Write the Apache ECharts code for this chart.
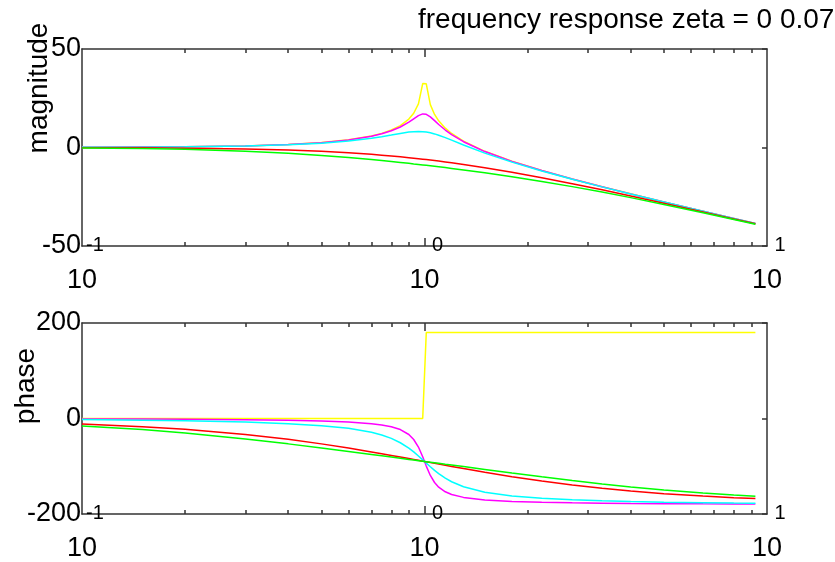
<!DOCTYPE html>
<html>
<head>
<meta charset="utf-8">
<script src="https://cdn.jsdelivr.net/npm/echarts@6/dist/echarts.min.js"></script>
<style>
  html, body { margin: 0; padding: 0; background: #fff; }
  #chart { width: 835px; height: 562px; }
</style>
</head>
<body>
<div id="chart"></div>
<script>
// frequency samples (rad/s), shared by every curve
const freq = [0.1, 0.15, 0.2, 0.3, 0.4, 0.5, 0.6, 0.7, 0.75, 0.8, 0.85, 0.9, 0.93, 0.96, 0.988,
  1.012, 1.04, 1.07, 1.1, 1.15, 1.2, 1.3, 1.5, 1.8, 2.2, 2.7, 3.3, 4, 5, 6.5, 8, 9.25];

const zetaLabels = ['0', '0.07', '0.2', '1', '1.4'];
const lineColors = ['#ffff00', '#ff00ff', '#00ffff', '#ff0000', '#00ff00'];

// magnitude (dB)
const magYellow = [0.09, 0.2, 0.35, 0.82, 1.51, 2.5, 3.88, 5.85, 7.18, 8.87, 11.13, 14.42, 17.39, 22.11, 32.45,
  32.34, 21.77, 16.78, 13.56, 9.83, 7.13, 3.22, -1.94, -7.0, -11.69, -15.97, -19.9, -23.52, -27.6, -32.31, -35.99, -38.54];
const magMagenta = [0.09, 0.2, 0.35, 0.81, 1.5, 2.46, 3.8, 5.69, 6.94, 8.47, 10.4, 12.84, 14.53, 16.16, 17.05,
  16.85, 15.55, 13.62, 11.69, 8.86, 6.54, 2.93, -2.06, -7.06, -11.71, -15.99, -19.91, -23.53, -27.61, -32.31, -35.99, -38.54];
const magCyan = [0.08, 0.18, 0.32, 0.74, 1.36, 2.2, 3.3, 4.7, 5.51, 6.35, 7.15, 7.81, 8.05, 8.14, 8.05,
  7.84, 7.45, 6.9, 6.24, 5.01, 3.73, 1.27, -2.84, -7.43, -11.91, -16.1, -19.98, -23.57, -27.63, -32.33, -36.0, -38.55];
const magRed = [-0.09, -0.19, -0.34, -0.75, -1.29, -1.94, -2.67, -3.46, -3.88, -4.3, -4.72, -5.15, -5.41, -5.67, -5.92,
  -6.13, -6.37, -6.63, -6.89, -7.32, -7.75, -8.6, -10.24, -12.55, -15.33, -18.37, -21.5, -24.61, -28.3, -32.72, -36.26, -38.75];
const magGreen = [-0.25, -0.54, -0.92, -1.86, -2.92, -4.02, -5.1, -6.13, -6.63, -7.12, -7.59, -8.05, -8.33, -8.59, -8.84,
  -9.05, -9.29, -9.54, -9.79, -10.2, -10.6, -11.38, -12.83, -14.83, -17.22, -19.86, -22.63, -25.45, -28.88, -33.08, -36.5, -38.93];

// phase (deg)
const phaseYellow = [0, 0, 0, 0, 0, 0, 0, 0, 0, 0, 0, 0, 0, 0, 0,
  180, 180, 180, 180, 180, 180, 180, 180, 180, 180, 180, 180, 180, 180, 180, 180, 180];
const phaseMagenta = [-0.81, -1.23, -1.67, -2.64, -3.81, -5.33, -7.48, -10.88, -13.5, -17.28, -23.21, -33.55, -43.94, -59.74, -80.21,
  -99.67, -119.26, -134.04, -143.75, -153.47, -159.1, -165.22, -170.46, -173.58, -175.41, -176.56, -177.33, -177.86, -178.33, -178.74, -178.98, -179.12];
const phaseCyan = [-2.31, -3.51, -4.76, -7.51, -10.78, -14.93, -20.56, -28.77, -34.44, -41.63, -50.78, -62.18, -70.04, -78.46, -86.55,
  -93.41, -101.1, -108.7, -115.52, -125.03, -132.51, -143.0, -154.36, -162.18, -167.09, -170.26, -172.4, -173.91, -175.24, -176.39, -177.09, -177.49];
const phaseRed = [-11.42, -17.06, -22.62, -33.4, -43.6, -53.13, -61.93, -69.98, -73.74, -77.32, -80.73, -83.97, -85.85, -87.66, -89.31,
  -90.68, -92.25, -93.86, -95.45, -97.98, -100.39, -104.86, -112.62, -121.89, -131.11, -139.35, -146.28, -151.93, -157.38, -162.51, -165.75, -167.66];
const phaseGreen = [-15.79, -23.25, -30.26, -42.71, -53.13, -61.82, -69.15, -75.41, -78.23, -80.87, -83.35, -85.69, -87.03, -88.33, -89.51,
  -90.49, -91.61, -92.77, -93.9, -95.72, -97.46, -100.73, -106.57, -113.96, -121.94, -129.76, -136.95, -143.25, -149.74, -156.19, -160.43, -162.97];

const magSets = [magYellow, magMagenta, magCyan, magRed, magGreen];
const phaseSets = [phaseYellow, phaseMagenta, phaseCyan, phaseRed, phaseGreen];

const minorTicks = [0.2, 0.3, 0.4, 0.5, 0.6, 0.7, 0.8, 0.9, 2, 3, 4, 5, 6, 7, 8, 9];
const decadeTicks = [0.1, 1, 10];

const FONT = '"Liberation Sans", Arial, sans-serif';
const AXIS_COLOR = '#333';

function pairs(ys) {
  return freq.map((w, i) => [w, ys[i]]);
}

// four x axes per panel: bottom line + minor ticks + "10", bottom major tick + exponent, top line, top major tick
function xAxesFor(g) {
  const base = { type: 'log', logBase: 10, min: 0.1, max: 10, gridIndex: g, splitLine: { show: false } };
  const line = { show: true, onZero: false, lineStyle: { color: AXIS_COLOR, width: 1.5 } };
  const tickStyle = { color: AXIS_COLOR, width: 1.5 };
  return [
    Object.assign({}, base, {
      position: 'bottom',
      axisLine: line,
      axisTick: { show: true, inside: true, length: 4, customValues: minorTicks, lineStyle: tickStyle },
      axisLabel: { show: true, customValues: decadeTicks, formatter: () => '10', fontSize: 27, margin: 21,
        color: '#000', fontFamily: FONT }
    }),
    Object.assign({}, base, {
      position: 'bottom',
      axisLine: { show: false, onZero: false },
      axisTick: { show: true, inside: true, length: 8, customValues: [1], lineStyle: tickStyle },
      axisLabel: { show: true, customValues: decadeTicks, formatter: v => String(Math.round(Math.log10(v))),
        fontSize: 20, margin: -11, padding: [0, 0, 0, 26], color: '#000', fontFamily: FONT }
    }),
    Object.assign({}, base, {
      position: 'top',
      axisLine: line,
      axisTick: { show: true, inside: true, length: 4, customValues: minorTicks, lineStyle: tickStyle },
      axisLabel: { show: false }
    }),
    Object.assign({}, base, {
      position: 'top',
      axisLine: { show: false, onZero: false },
      axisTick: { show: true, inside: true, length: 8, customValues: [1], lineStyle: tickStyle },
      axisLabel: { show: false }
    })
  ];
}

function yAxesFor(g, lim) {
  const base = { type: 'value', min: -lim, max: lim, interval: lim, gridIndex: g, splitLine: { show: false } };
  const line = { show: true, onZero: false, lineStyle: { color: AXIS_COLOR, width: 1.5 } };
  return [
    Object.assign({}, base, {
      position: 'left',
      axisLine: line,
      axisTick: { show: false },
      axisLabel: { fontSize: 27, margin: 1, color: '#000', fontFamily: FONT }
    }),
    Object.assign({}, base, {
      position: 'right',
      axisLine: line,
      axisTick: { show: true, inside: true, length: 5, lineStyle: { color: AXIS_COLOR, width: 1.5 } },
      axisLabel: { show: false }
    })
  ];
}

const series = [];
magSets.forEach((ys, i) => {
  series.push({
    name: 'zeta ' + zetaLabels[i], type: 'line', xAxisIndex: 0, yAxisIndex: 0,
    data: pairs(ys), showSymbol: false, silent: true,
    lineStyle: { color: lineColors[i], width: 1.5 }
  });
});
phaseSets.forEach((ys, i) => {
  series.push({
    name: 'zeta ' + zetaLabels[i], type: 'line', xAxisIndex: 4, yAxisIndex: 2,
    data: pairs(ys), showSymbol: false, silent: true,
    lineStyle: { color: lineColors[i], width: 1.5 }
  });
});

const chart = echarts.init(document.getElementById('chart'));
chart.setOption({
  animation: false,
  backgroundColor: '#fff',
  title: {
    text: 'frequency response zeta = ' + zetaLabels.join(' '),
    left: 418, top: 6, padding: 0,
    textStyle: { fontSize: 28, fontWeight: 'normal', color: '#000', fontFamily: FONT }
  },
  grid: [
    { left: 82, right: 68, top: 49, height: 197 },
    { left: 82, right: 68, top: 323, height: 192 }
  ],
  xAxis: xAxesFor(0).concat(xAxesFor(1)),
  yAxis: yAxesFor(0, 50).concat(yAxesFor(1, 200)),
  graphic: [
    { type: 'text', x: 39, y: 88, rotation: Math.PI / 2,
      style: { text: 'magnitude', fontSize: 28, fontFamily: FONT, fill: '#000', align: 'center', verticalAlign: 'middle' } },
    { type: 'text', x: 26, y: 386, rotation: Math.PI / 2,
      style: { text: 'phase', fontSize: 28, fontFamily: FONT, fill: '#000', align: 'center', verticalAlign: 'middle' } }
  ],
  series: series
});
</script>
</body>
</html>
